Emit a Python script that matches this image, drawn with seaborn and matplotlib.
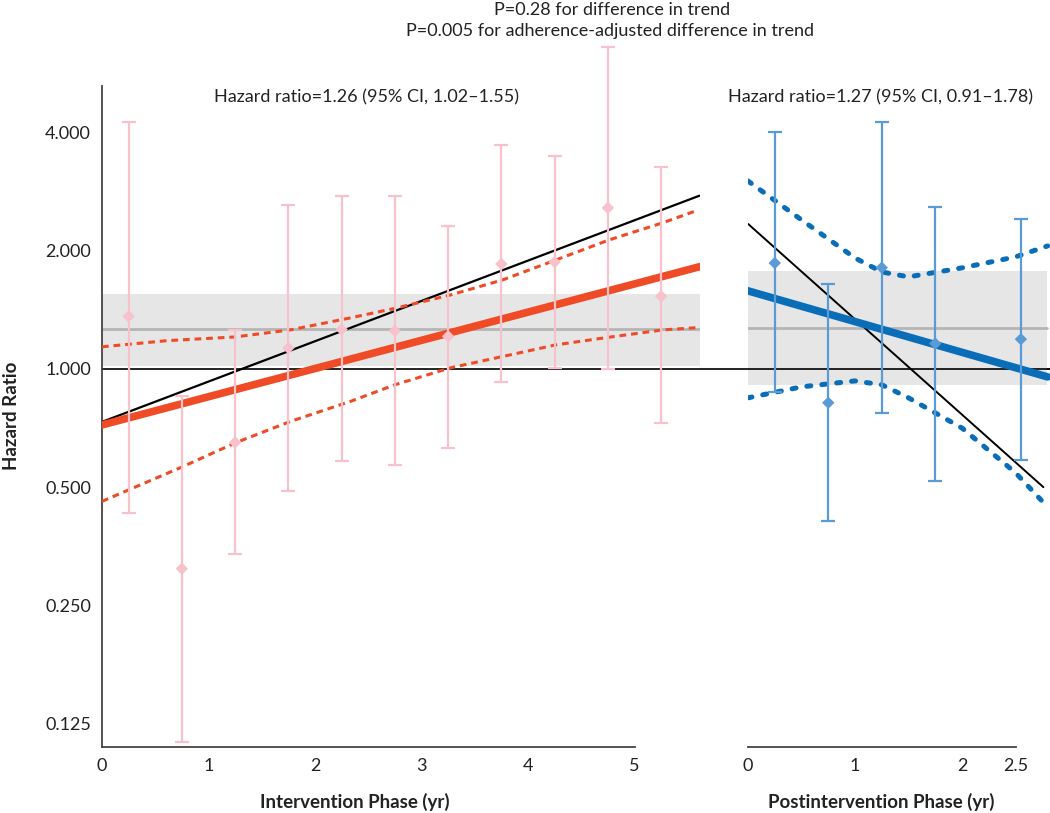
import matplotlib
matplotlib.use('Agg')
import matplotlib.pyplot as plt
import matplotlib.ticker as mticker
import seaborn as sns
import pandas as pd

# dados - fase de intervencao
int_x = [0.25, 0.75, 1.25, 1.75, 2.25, 2.75, 3.25, 3.75, 4.25, 4.75, 5.25]
int_hr = [1.36, 0.31, 0.65, 1.13, 1.26, 1.25, 1.21, 1.85, 1.87, 2.57, 1.53]
int_lo = [0.43, 0.112, 0.338, 0.489, 0.583, 0.57, 0.63, 0.927, 1.006, 1.0, 0.729]
int_hi = [4.25, 0.854, 1.257, 2.61, 2.76, 2.76, 2.31, 3.72, 3.48, 6.6, 3.27]

int_fit_x = [0, 5.61]
int_fit = [0.72, 1.82]
int_adj = [0.733, 2.76]
int_up_x = [0, 0.61, 1.25, 1.77, 2.33, 2.77, 3.27, 3.76, 4.26, 4.76, 5.27, 5.6]
int_up = [1.138, 1.18, 1.206, 1.257, 1.348, 1.43, 1.542, 1.684, 1.893, 2.129, 2.357, 2.539]
int_dn_x = [0, 0.76, 1.25, 1.77, 2.33, 2.75, 3.27, 3.76, 4.26, 4.76, 5.27, 5.6]
int_dn = [0.46, 0.564, 0.648, 0.735, 0.826, 0.911, 1.006, 1.075, 1.151, 1.204, 1.257, 1.274]
int_band = [1.02, 1.26, 1.55]

# dados - fase pos intervencao
post_x = [0.25, 0.75, 1.25, 1.75, 2.55]
post_hr = [1.86, 0.82, 1.81, 1.16, 1.19]
post_lo = [0.874, 0.41, 0.77, 0.519, 0.587]
post_hi = [4.0, 1.64, 4.25, 2.58, 2.41]

post_fit_x = [0, 2.8]
post_fit = [1.58, 0.954]
post_adj_x = [0, 2.76]
post_adj = [2.34, 0.50]
post_ci_x = [0, 0.5, 1, 1.25, 1.5, 2, 2.5, 2.8]
post_up = [3.008, 2.395, 1.916, 1.765, 1.715, 1.808, 1.928, 2.056]
post_dn = [0.844, 0.9, 0.932, 0.911, 0.844, 0.707, 0.544, 0.445]
post_band = [0.91, 1.27, 1.78]

yticks = [0.125, 0.25, 0.5, 1, 2, 4]

sns.set_style('white')
plt.rcParams['font.family'] = ['Lato', 'DejaVu Sans']

RED = '#ee4b26'
PINK = '#f7c2cc'
BLUE = '#0a6db8'
LBLUE = '#5b9bd5'
W, H = 1050, 813

fig = plt.figure(figsize=(10.5, 8.13), dpi=100)
bot = (H - 747) / H
hgt = (747 - 86) / H
ax1 = fig.add_axes([102 / W, bot, (700 - 102) / W, hgt])
ax2 = fig.add_axes([748 / W, bot, (W - 748) / W, hgt])
ax2.set_facecolor('none')

for ax in (ax1, ax2):
    ax.set_yscale('log', base=2)
    ax.set_ylim(0.109, 5.25)
    ax.set_yticks(yticks)
    ax.yaxis.set_major_formatter(mticker.FormatStrFormatter('%.3f'))
    ax.yaxis.set_minor_locator(mticker.NullLocator())
    ax.tick_params(direction='out', length=6, width=1.2, colors='#333333',
                   labelsize=13, labelcolor='#222222', pad=2)
    for s in ['top', 'right']:
        ax.spines[s].set_visible(False)
    ax.spines['bottom'].set_color('#444444')
    ax.spines['bottom'].set_linewidth(1.3)
    ax.set_xlabel('')
    ax.set_ylabel('')

ax1.set_xlim(0, 5.615)
ax1.set_xticks([0, 1, 2, 3, 4, 5])
ax1.spines['bottom'].set_bounds(0, 5)
ax1.spines['left'].set_color('#444444')
ax1.spines['left'].set_linewidth(1.3)

ax2.set_xlim(0, 2.822)
ax2.set_xticks([0, 1, 2, 2.5])
ax2.set_xticklabels(['0', '1', '2', '2.5'])
ax2.spines['bottom'].set_bounds(0, 2.5)
ax2.spines['left'].set_visible(False)
ax2.tick_params(axis='y', left=False, labelleft=False)

# faixas cinza do hazard ratio
ax1.axhspan(int_band[0], int_band[2], color='#e6e6e6', lw=0, zorder=0)
ax1.axhline(int_band[1], color='#b5b5b5', lw=2, zorder=1)
ax2.axhspan(post_band[0], post_band[2], xmax=0.99, color='#e6e6e6', lw=0, zorder=0)
ax2.axhline(post_band[1], xmax=0.99, color='#b5b5b5', lw=2, zorder=1)

# linha de referencia em 1
ax1.axhline(1, xmax=(W - 102) / (700 - 102), color='black', lw=1.2, zorder=2, clip_on=False)
ax2.axhline(1, color='black', lw=1.2, zorder=2)

# linhas de tendencia
sns.lineplot(x=int_fit_x, y=int_adj, ax=ax1, color='black', lw=1.6, zorder=3)
sns.lineplot(x=int_up_x, y=int_up, ax=ax1, color=RED, lw=2.2, zorder=3)
sns.lineplot(x=int_dn_x, y=int_dn, ax=ax1, color=RED, lw=2.2, zorder=3)
for ln in ax1.lines[-2:]:
    ln.set_dashes([2.2, 1.6])
sns.lineplot(x=int_fit_x, y=int_fit, ax=ax1, color=RED, lw=5.5, zorder=4)

sns.lineplot(x=post_adj_x, y=post_adj, ax=ax2, color='black', lw=1.4, zorder=3)
sns.lineplot(x=post_ci_x, y=post_up, ax=ax2, color=BLUE, lw=3.6, zorder=3)
sns.lineplot(x=post_ci_x, y=post_dn, ax=ax2, color=BLUE, lw=3.6, zorder=3)
for ln in ax2.lines[-2:]:
    ln.set_dashes([0.8, 2.2])
    ln.set_dash_capstyle('round')
sns.lineplot(x=post_fit_x, y=post_fit, ax=ax2, color=BLUE, lw=5.5, zorder=4)

# pontos com intervalos de confianca
ax1.errorbar(int_x, int_hr,
             yerr=[[h - l for h, l in zip(int_hr, int_lo)], [u - h for h, u in zip(int_hr, int_hi)]],
             fmt='none', ecolor=PINK, elinewidth=1.6, capsize=5, capthick=1.6, zorder=5, clip_on=False)
sns.scatterplot(x=int_x, y=int_hr, ax=ax1, marker='D', s=40, color=PINK, edgecolor='none', zorder=6)

ax2.errorbar(post_x, post_hr,
             yerr=[[h - l for h, l in zip(post_hr, post_lo)], [u - h for h, u in zip(post_hr, post_hi)]],
             fmt='none', ecolor=LBLUE, elinewidth=1.6, capsize=5, capthick=1.6, zorder=5)
sns.scatterplot(x=post_x, y=post_hr, ax=ax2, marker='D', s=40, color=LBLUE, edgecolor='none', zorder=6)

# textos
def ft(x, y, s, **kw):
    fig.text(x / W, 1 - y / H, s, ha='center', va='center', color='#222222', **kw)

ft(612, 10, 'P=0.28 for difference in trend', fontsize=13)
ft(610, 31, 'P=0.005 for adherence-adjusted difference in trend', fontsize=13)
ft(367, 97, 'Hazard ratio=1.26 (95% CI, 1.02\u20131.55)', fontsize=13)
ft(881, 97, 'Hazard ratio=1.27 (95% CI, 0.91\u20131.78)', fontsize=13)
ft(355, 802, 'Intervention Phase (yr)', fontsize=13.5, fontweight='bold')
ft(881, 802, 'Postintervention Phase (yr)', fontsize=13.5, fontweight='bold')
ft(12, 416, 'Hazard Ratio', fontsize=13.5, fontweight='bold', rotation=90)

fig.savefig('out.png', dpi=100)
